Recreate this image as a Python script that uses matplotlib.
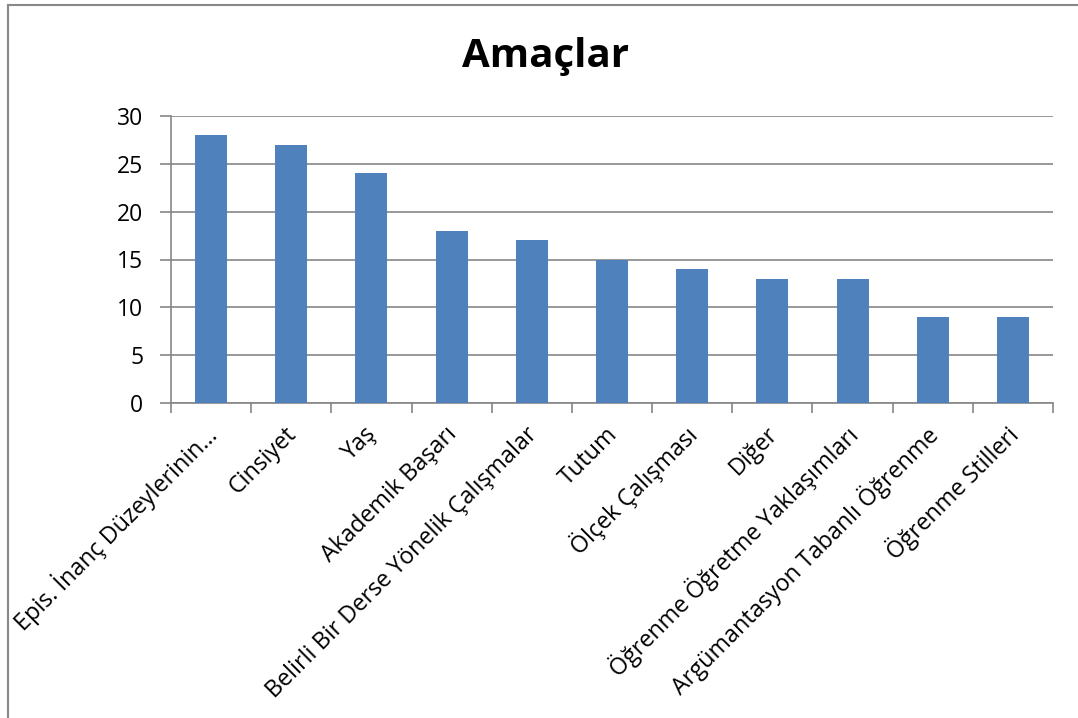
import matplotlib
matplotlib.use("Agg")
import matplotlib.pyplot as plt
from matplotlib.lines import Line2D

categories = ["Epis. İnanç Düzeylerinin…", "Cinsiyet", "Yaş", "Akademik Başarı",
              "Belirli Bir Derse Yönelik Çalışmalar", "Tutum", "Ölçek Çalışması",
              "Diğer", "Öğrenme Öğretme Yaklaşımları",
              "Argümantasyon Tabanlı Öğrenme", "Öğrenme Stilleri"]
values = [28, 27, 24, 18, 17, 15, 14, 13, 13, 9, 9]
yticks = [0, 5, 10, 15, 20, 25, 30]
title = "Amaçlar"

plt.rcParams['font.family'] = ['Open Sans', 'DejaVu Sans']

fig = plt.figure(figsize=(10.78, 7.18), dpi=100)
W, H = 1078, 718
ax = fig.add_axes([171 / W, 1 - 403 / H, (1053 - 171) / W, (403 - 116) / H])

x = list(range(len(categories)))
ax.bar(x, values, width=0.4, color="#4F81BD", zorder=3)
ax.set_xlim(-0.5, len(categories) - 0.5)
ax.set_ylim(0, 30)
ax.set_yticks(yticks)
ax.set_yticklabels([str(v) for v in yticks], fontsize=16.5)
ax.yaxis.grid(True, color="#868686", linewidth=1.2, zorder=0)
ax.tick_params(axis='y', length=8, width=1.2, color="#868686", pad=12)

ax.set_xticks([i - 0.5 for i in range(len(categories) + 1)])
ax.set_xticklabels([])
ax.tick_params(axis='x', length=7, width=1.2, color="#868686")
for i, lab in enumerate(categories):
    ax.text(i + 0.02, -2.9, lab, rotation=45, rotation_mode='anchor',
            ha='right', va='center', fontsize=16.8, transform=ax.transData,
            clip_on=False)

for s in ['top', 'right']:
    ax.spines[s].set_visible(False)
for s in ['left', 'bottom']:
    ax.spines[s].set_color("#868686")
    ax.spines[s].set_linewidth(1.2)

fig.text(545 / W, 1 - 57 / H, title, ha='center', va='center',
         fontsize=29, fontweight='bold')

# chart border (left and top visible)
fig.add_artist(Line2D([7.5 / W, 7.5 / W], [0, 1 - 4.5 / H], transform=fig.transFigure,
                      color="#888888", linewidth=1.5))
fig.add_artist(Line2D([7.5 / W, 1], [1 - 4.5 / H, 1 - 4.5 / H], transform=fig.transFigure,
                      color="#888888", linewidth=1.5))

fig.savefig("out.png", dpi=100)
